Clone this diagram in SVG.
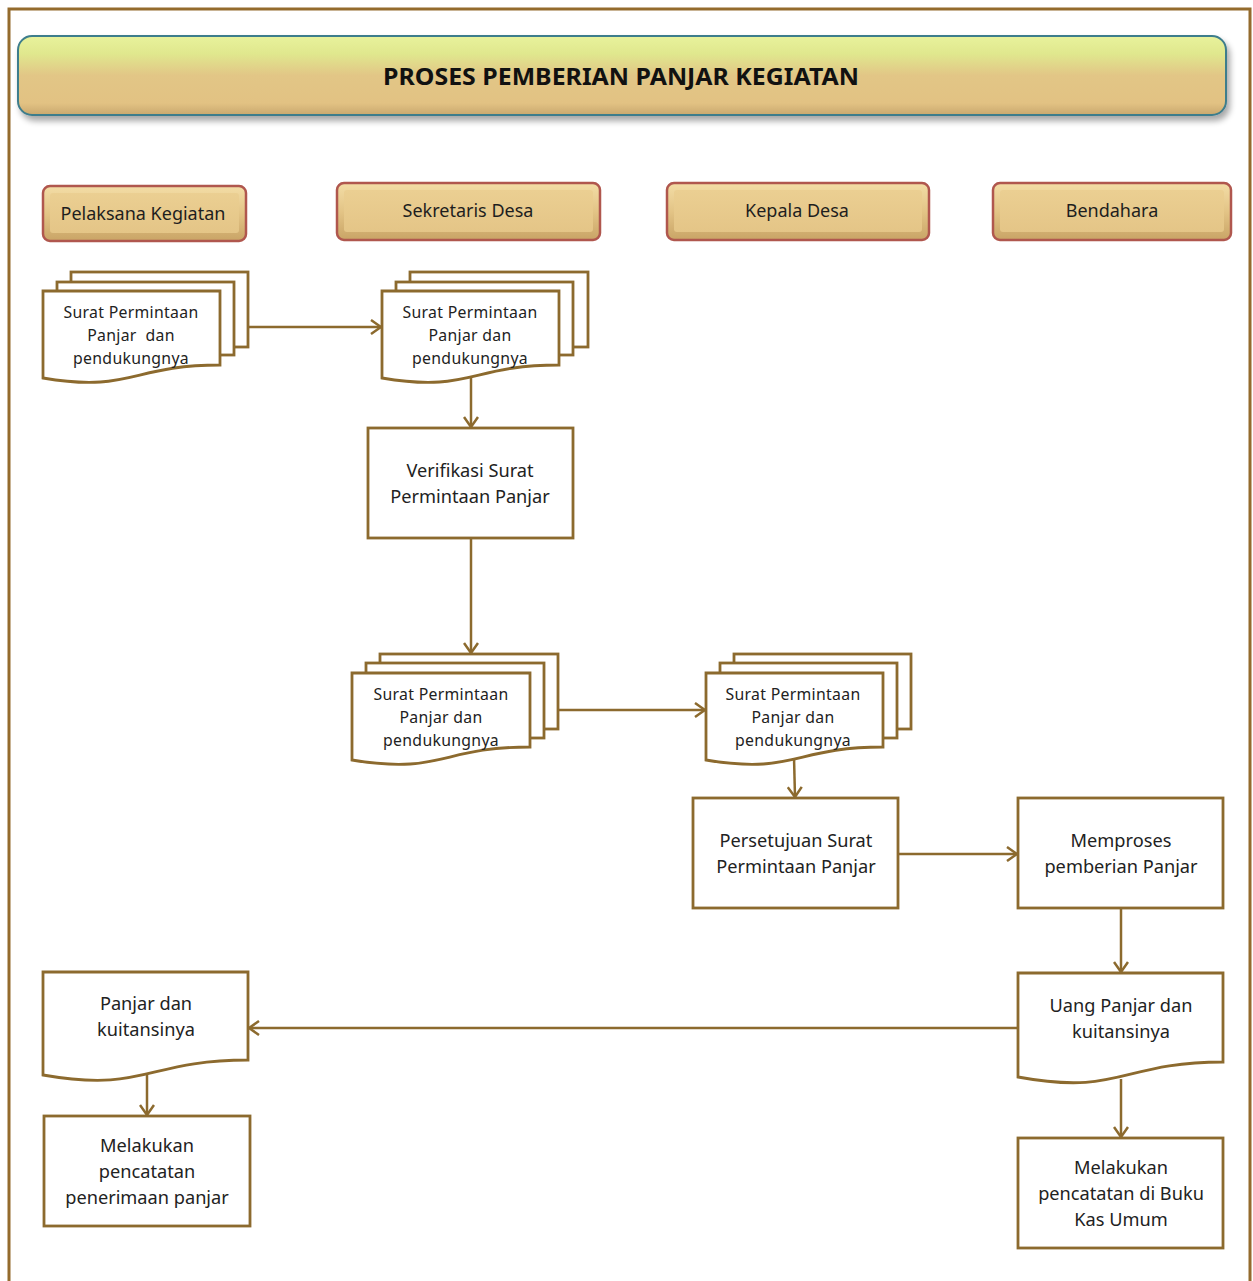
<svg xmlns="http://www.w3.org/2000/svg" width="1253" height="1281" viewBox="0 0 1253 1281">
  <defs>
    <linearGradient id="titleFill" x1="0" y1="0" x2="0" y2="1">
      <stop offset="0" stop-color="#E8F29C"/>
      <stop offset="0.22" stop-color="#E0E88E"/>
      <stop offset="0.5" stop-color="#E2C686"/>
      <stop offset="0.85" stop-color="#E2C283"/>
      <stop offset="1" stop-color="#C9A86E"/>
    </linearGradient>
    <linearGradient id="laneFill" x1="0" y1="0" x2="0" y2="1">
      <stop offset="0" stop-color="#F3DDA6"/>
      <stop offset="0.5" stop-color="#E3C486"/>
      <stop offset="1" stop-color="#C9A466"/>
    </linearGradient>
    <linearGradient id="laneInner" x1="0" y1="0" x2="0" y2="1">
      <stop offset="0" stop-color="#EBCF92"/>
      <stop offset="1" stop-color="#E4C587"/>
    </linearGradient>
    <filter id="shadow" x="-5%" y="-20%" width="110%" height="150%">
      <feGaussianBlur in="SourceAlpha" stdDeviation="3"/>
      <feOffset dx="3" dy="5" result="b"/>
      <feComponentTransfer><feFuncA type="linear" slope="0.35"/></feComponentTransfer>
      <feMerge><feMergeNode/><feMergeNode in="SourceGraphic"/></feMerge>
    </filter>
    <marker id="arrow" viewBox="0 0 12 16" refX="11" refY="8" markerWidth="12" markerHeight="16" markerUnits="userSpaceOnUse" orient="auto">
      <path d="M1,1 L11,8 L1,15" fill="none" stroke="#8C6A2E" stroke-width="2.5" stroke-linejoin="miter"/>
    </marker>
    <style>
      .frame { fill: #FFFFFF; stroke: #946B2D; stroke-width: 3; }
      .shape { fill: #FFFFFF; stroke: #8C6A2E; stroke-width: 2.8; }
      .lane-outer { fill: url(#laneFill); stroke: #B0574E; stroke-width: 2.5; }
      .lane-inner { fill: url(#laneInner); stroke: none; }
      .conn { fill: none; stroke: #8C6A2E; stroke-width: 2.5; marker-end: url(#arrow); }
      text { font-family: "Noto Sans", "Open Sans", "Liberation Sans", sans-serif; fill: #222222; text-anchor: middle; }
      .t-title { font-size: 24px; font-weight: bold; fill: #111111; }
      .t-lane { font-size: 18px; fill: #1E1E1E; }
      .t-doc { font-size: 15.8px; letter-spacing: 0.3px; }
      .t-box { font-size: 18.2px; }
    </style>
  </defs>

  <!-- page frame -->
  <rect class="frame" x="9" y="9" width="1241" height="1290"/>

  <!-- title banner -->
  <g id="title">
    <rect x="18" y="36" width="1208" height="79" rx="14" ry="14" fill="url(#titleFill)" stroke="#3E7D8C" stroke-width="2" filter="url(#shadow)"/>
    <text class="t-title" x="621" y="85" textLength="476" lengthAdjust="spacingAndGlyphs">PROSES PEMBERIAN PANJAR KEGIATAN</text>
  </g>

  <!-- swimlane headers -->
  <g id="lane-pelaksana">
    <rect class="lane-outer" x="43" y="186" width="203" height="55" rx="7"/>
    <rect class="lane-inner" x="50" y="193" width="189" height="40" rx="3"/>
    <text class="t-lane" x="143" y="220">Pelaksana Kegiatan</text>
  </g>
  <g id="lane-sekretaris">
    <rect class="lane-outer" x="337" y="183" width="263" height="57" rx="7"/>
    <rect class="lane-inner" x="344" y="190" width="249" height="42" rx="3"/>
    <text class="t-lane" x="468" y="217">Sekretaris Desa</text>
  </g>
  <g id="lane-kepala">
    <rect class="lane-outer" x="667" y="183" width="262" height="57" rx="7"/>
    <rect class="lane-inner" x="674" y="190" width="248" height="42" rx="3"/>
    <text class="t-lane" x="797" y="217">Kepala Desa</text>
  </g>
  <g id="lane-bendahara">
    <rect class="lane-outer" x="993" y="183" width="238" height="57" rx="7"/>
    <rect class="lane-inner" x="1000" y="190" width="224" height="42" rx="3"/>
    <text class="t-lane" x="1112" y="217">Bendahara</text>
  </g>

  <!-- connectors -->
  <g id="connectors">
    <path class="conn" d="M248,327 H381"/>
    <path class="conn" d="M471,370 V427"/>
    <path class="conn" d="M471,538 V653"/>
    <path class="conn" d="M558,710 H705"/>
    <path class="conn" d="M794,757 L795,797"/>
    <path class="conn" d="M898,854 H1017"/>
    <path class="conn" d="M1121,908 V972"/>
    <path class="conn" d="M1018,1028 H249"/>
    <path class="conn" d="M147,1073 V1115"/>
    <path class="conn" d="M1121,1079 V1137"/>
  </g>

  <!-- Pelaksana: multi-document -->
  <g id="doc-pelaksana">
    <rect class="shape" x="71" y="272" width="177" height="75"/>
    <rect class="shape" x="57" y="282" width="177" height="73"/>
    <path class="shape" d="M43,291 H220 V365 C131,365 131,393 43,378 Z"/>
    <text class="t-doc" x="131" y="318">Surat Permintaan</text>
    <text class="t-doc" x="131" y="341" xml:space="preserve">Panjar  dan</text>
    <text class="t-doc" x="131" y="364">pendukungnya</text>
  </g>

  <!-- Sekretaris: multi-document -->
  <g id="doc-sekretaris">
    <rect class="shape" x="410" y="272" width="178" height="75"/>
    <rect class="shape" x="396" y="282" width="177" height="73"/>
    <path class="shape" d="M382,291 H559 V365 C470,365 470,393 382,378 Z"/>
    <text class="t-doc" x="470" y="318">Surat Permintaan</text>
    <text class="t-doc" x="470" y="341">Panjar dan</text>
    <text class="t-doc" x="470" y="364">pendukungnya</text>
  </g>

  <g id="verifikasi">
    <rect class="shape" x="368" y="428" width="205" height="110"/>
    <text class="t-box" x="470" y="477">Verifikasi Surat</text>
    <text class="t-box" x="470" y="503">Permintaan Panjar</text>
  </g>

  <!-- Sekretaris: verified multi-document -->
  <g id="doc-sekretaris-2">
    <rect class="shape" x="380" y="654" width="178" height="75"/>
    <rect class="shape" x="366" y="663" width="178" height="75"/>
    <path class="shape" d="M352,673 H530 V747 C441,747 441,775 352,760 Z"/>
    <text class="t-doc" x="441" y="700">Surat Permintaan</text>
    <text class="t-doc" x="441" y="723">Panjar dan</text>
    <text class="t-doc" x="441" y="746">pendukungnya</text>
  </g>

  <!-- Kepala Desa: multi-document -->
  <g id="doc-kepala">
    <rect class="shape" x="734" y="654" width="177" height="75"/>
    <rect class="shape" x="720" y="663" width="177" height="75"/>
    <path class="shape" d="M706,673 H883 V747 C794,747 794,775 706,760 Z"/>
    <text class="t-doc" x="793" y="700">Surat Permintaan</text>
    <text class="t-doc" x="793" y="723">Panjar dan</text>
    <text class="t-doc" x="793" y="746">pendukungnya</text>
  </g>

  <g id="persetujuan">
    <rect class="shape" x="693" y="798" width="205" height="110"/>
    <text class="t-box" x="796" y="847">Persetujuan Surat</text>
    <text class="t-box" x="796" y="873">Permintaan Panjar</text>
  </g>

  <g id="memproses">
    <rect class="shape" x="1018" y="798" width="205" height="110"/>
    <text class="t-box" x="1121" y="847">Memproses</text>
    <text class="t-box" x="1121" y="873">pemberian Panjar</text>
  </g>

  <g id="doc-uang-panjar">
    <path class="shape" d="M1018,973 H1223 V1062 C1121,1062 1121,1096 1018,1077 Z"/>
    <text class="t-box" x="1121" y="1012">Uang Panjar dan</text>
    <text class="t-box" x="1121" y="1038">kuitansinya</text>
  </g>

  <g id="doc-panjar">
    <path class="shape" d="M43,972 H248 V1060 C146,1060 146,1093 43,1075 Z"/>
    <text class="t-box" x="146" y="1010">Panjar dan</text>
    <text class="t-box" x="146" y="1036">kuitansinya</text>
  </g>

  <g id="pencatatan-penerimaan">
    <rect class="shape" x="44" y="1116" width="206" height="110"/>
    <text class="t-box" x="147" y="1152">Melakukan</text>
    <text class="t-box" x="147" y="1178">pencatatan</text>
    <text class="t-box" x="147" y="1204">penerimaan panjar</text>
  </g>

  <g id="pencatatan-bku">
    <rect class="shape" x="1018" y="1138" width="205" height="110"/>
    <text class="t-box" x="1121" y="1174">Melakukan</text>
    <text class="t-box" x="1121" y="1200">pencatatan di Buku</text>
    <text class="t-box" x="1121" y="1226">Kas Umum</text>
  </g>
</svg>
